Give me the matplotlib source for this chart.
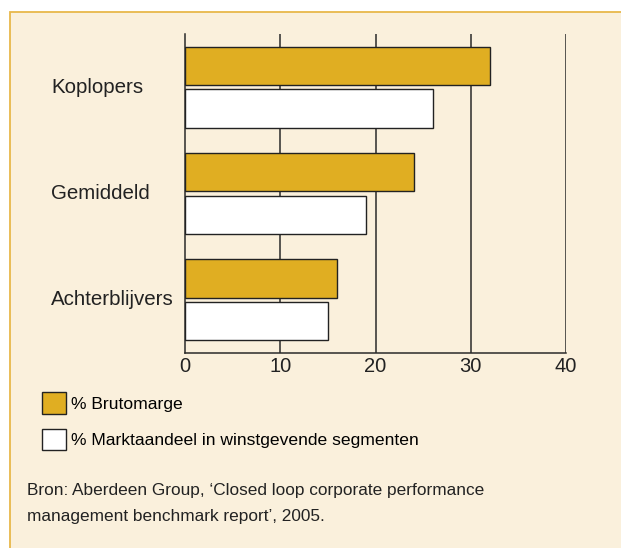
import matplotlib
matplotlib.use("Agg")
import matplotlib.pyplot as plt
from matplotlib.patches import Rectangle
from matplotlib.transforms import blended_transform_factory
import numpy as np

categories = ["Koplopers", "Gemiddeld", "Achterblijvers"]
brutomarge = [32, 24, 16]
marktaandeel = [26, 19, 15]
series_labels = ["% Brutomarge", "% Marktaandeel in winstgevende segmenten"]
x_ticks = [0, 10, 20, 30, 40]
source_text = ("Bron: Aberdeen Group, \u2018Closed loop corporate performance\n"
               "management benchmark report\u2019, 2005.")

W, H = 621, 548
GOLD = "#E0AE22"
BEIGE = "#FAF0DC"
BORDER = "#E8B84A"
EDGE = "#222222"

plt.rcParams["font.family"] = ["Liberation Sans", "DejaVu Sans"]

fig = plt.figure(figsize=(W / 100, H / 100), dpi=100)
fig.patch.set_facecolor("white")

def fx(px):
    return px / W

def fy(py):
    return 1 - py / H

# background box
box = Rectangle((fx(9.5), fy(H + 5)), fx(W + 10 - 9.5), (H + 5 - 11.5) / H,
                transform=fig.transFigure, facecolor=BEIGE, edgecolor=BORDER,
                linewidth=1.3, zorder=-5)
fig.patches.append(box)

left, right, top, bottom = 185, 566, 34, 353
ax = fig.add_axes([fx(left), fy(bottom), (right - left) / W, (bottom - top) / H])
ax.set_facecolor("none")
ax.set_zorder(2)

y = np.arange(len(categories))[::-1].astype(float)
h = 0.36
ax.barh(y + 0.2, brutomarge, height=h, color=GOLD, edgecolor=EDGE, linewidth=1.0,
        zorder=3, label=series_labels[0])
ax.barh(y - 0.2, marktaandeel, height=h, color="white", edgecolor=EDGE, linewidth=1.0,
        zorder=3, label=series_labels[1])

ax.set_xlim(0, 40)
ax.set_ylim(-0.5, 2.5)
ax.set_xticks(x_ticks)
ax.set_xticklabels([str(t) for t in x_ticks], fontsize=14.5, color="#222222")
ax.tick_params(axis="x", length=0, pad=3)
ax.set_yticks([])
for t in x_ticks[1:]:
    ax.axvline(t, color="#2a2a2a", linewidth=1.1, zorder=1)
for s in ["top", "right"]:
    ax.spines[s].set_visible(False)
for s in ["left", "bottom"]:
    ax.spines[s].set_color("#2a2a2a")
    ax.spines[s].set_linewidth(1.1)

# category labels, left aligned
trans = blended_transform_factory(fig.transFigure, ax.transData)
for cat, yy in zip(categories, y):
    ax.text(fx(51), yy, cat, transform=trans, ha="left", va="center",
            fontsize=14.8, color="#222222", clip_on=False)

handles, labels = ax.get_legend_handles_labels()
leg = fig.legend(handles, labels, loc="upper left", bbox_to_anchor=(fx(37), fy(387)),
                 frameon=False, fontsize=12.6, handlelength=1.35, handleheight=1.5,
                 handletextpad=0.3, labelspacing=0.88, borderaxespad=0, borderpad=0.3)

fig.text(fx(27), fy(483), source_text, ha="left", va="top", fontsize=12.4,
         color="#222222", linespacing=1.95)

fig.savefig("out.png", dpi=100)
